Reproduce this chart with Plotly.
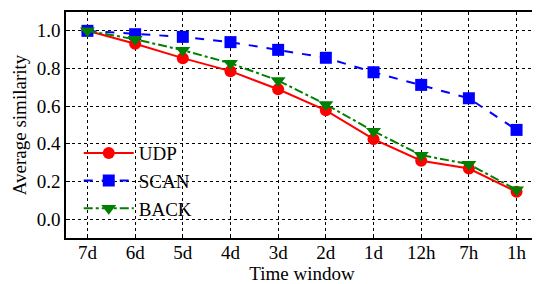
import plotly.graph_objects as go

categories = ["7d", "6d", "5d", "4d", "3d", "2d", "1d", "12h", "7h", "1h"]
udp = [1.0, 0.931, 0.855, 0.786, 0.69, 0.578, 0.425, 0.31, 0.269, 0.145]
scan = [1.0, 0.982, 0.968, 0.94, 0.899, 0.857, 0.78, 0.713, 0.642, 0.474]
back = [1.0, 0.955, 0.897, 0.828, 0.736, 0.609, 0.467, 0.34, 0.292, 0.156]
y_ticks = [0.0, 0.2, 0.4, 0.6, 0.8, 1.0]

xs = list(range(len(categories)))
font = "Liberation Serif, Times New Roman, serif"

fig = go.Figure()
fig.add_trace(go.Scatter(x=xs, y=udp, name="UDP", mode="lines+markers",
                         line=dict(color="#ff0000", width=2),
                         marker=dict(symbol="circle", size=12, color="#ff0000")))
fig.add_trace(go.Scatter(x=xs, y=scan, name="SCAN", mode="lines+markers",
                         line=dict(color="#0000ff", width=2, dash="dash"),
                         marker=dict(symbol="square", size=12, color="#0000ff")))
fig.add_trace(go.Scatter(x=xs, y=back, name="BACK", mode="lines+markers",
                         line=dict(color="#008000", width=2, dash="dashdot"),
                         marker=dict(symbol="triangle-down", size=13, color="#008000")))

# page body adds an 8px offset, so the figure is sized to the visible area
fig.update_layout(
    width=532, height=276,
    margin=dict(l=58, r=0, t=4, b=46),
    paper_bgcolor="white", plot_bgcolor="white",
    font=dict(family=font, size=19, color="black"),
    showlegend=True,
    legend=dict(x=0.027, y=0.46, xanchor="left", yanchor="top",
                bgcolor="rgba(255,255,255,0)", font=dict(size=19),
                tracegroupgap=0, itemwidth=50),
    xaxis=dict(
        range=[-0.45, 9.45], tickmode="array", tickvals=xs, ticktext=categories,
        ticks="inside", ticklen=4, tickcolor="black",
        ticklabelstandoff=-4,
        showline=True, linecolor="black", linewidth=1.5, mirror=True,
        showgrid=True, gridcolor="black", griddash="dot", gridwidth=1,
        zeroline=False,
        title=dict(text="Time window", font=dict(size=19), standoff=0),
    ),
    yaxis=dict(
        range=[-0.1, 1.1], tickmode="array", tickvals=y_ticks,
        ticktext=[f"{v:.1f}" for v in y_ticks],
        ticks="inside", ticklen=4, tickcolor="black",
        showline=True, linecolor="black", linewidth=1.5, mirror=True,
        showgrid=True, gridcolor="black", griddash="dot", gridwidth=1,
        zeroline=False,
        title=dict(text="Average similarity", font=dict(size=19), standoff=5),
    ),
)

fig.write_html("out.html")
